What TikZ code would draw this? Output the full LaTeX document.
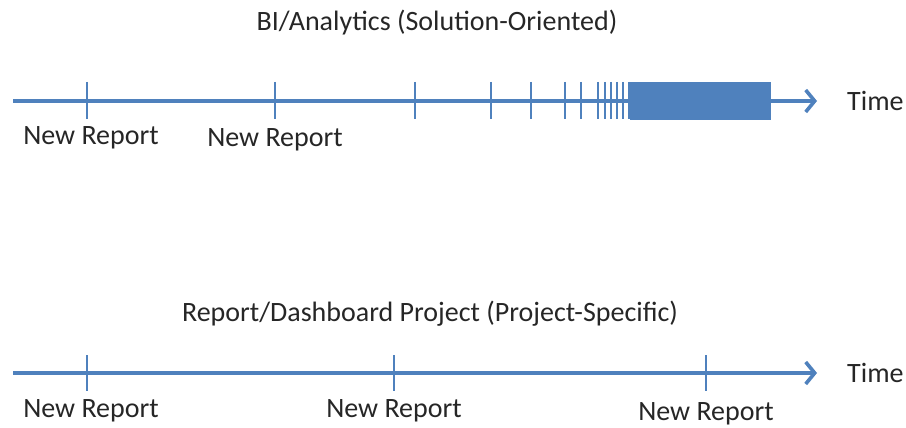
\documentclass[tikz,border=0pt]{standalone}
\usepackage{fontspec}
\setmainfont{Carlito}
\usetikzlibrary{arrows.meta}
\definecolor{axisblue}{HTML}{4F81BD}
\definecolor{inktext}{HTML}{262626}
\tikzset{
  timeline/.style={draw=axisblue, line width=3.6pt,
    -{Straight Barb[length=9pt, width=22pt, line width=3.6pt]}},
  tickmark/.style={draw=axisblue, line width=2.2pt},
  label/.style={text=inktext, font=\fontsize{28}{32}\selectfont, inner sep=0pt},
}
\begin{document}
\begin{tikzpicture}[x=1pt, y=-1pt]
\useasboundingbox (0,0) rectangle (906,428);

% ---- upper timeline: solution-oriented ----
\node[label] (titleA) at (437,23) {BI/Analytics (Solution-Oriented)};
\coordinate (a0) at (13,101);
\coordinate (a1) at (817,101);
\draw[timeline] (a0) -- (a1);
\node[label, anchor=west] (timeA) at (847,101) {Time};
\foreach \x in {87,275,415,491,531,565,581,598,605,611,617,623,629}
  \draw[tickmark] (\x,82) -- (\x,119);
\fill[axisblue] (630,82) rectangle (771,120);
\node[label] (repA1) at (91,138) {New Report};
\node[label] (repA2) at (275,140) {New Report};

% ---- lower timeline: project-specific ----
\node[label] (titleB) at (430,314) {Report/Dashboard Project (Project-Specific)};
\coordinate (b0) at (13,373);
\coordinate (b1) at (817,373);
\draw[timeline] (b0) -- (b1);
\node[label, anchor=west] (timeB) at (847,373) {Time};
\foreach \x in {87,394,706}
  \draw[tickmark] (\x,355) -- (\x,391);
\node[label] (repB1) at (91,411) {New Report};
\node[label] (repB2) at (394,411) {New Report};
\node[label] (repB3) at (706,414) {New Report};
\end{tikzpicture}
\end{document}
